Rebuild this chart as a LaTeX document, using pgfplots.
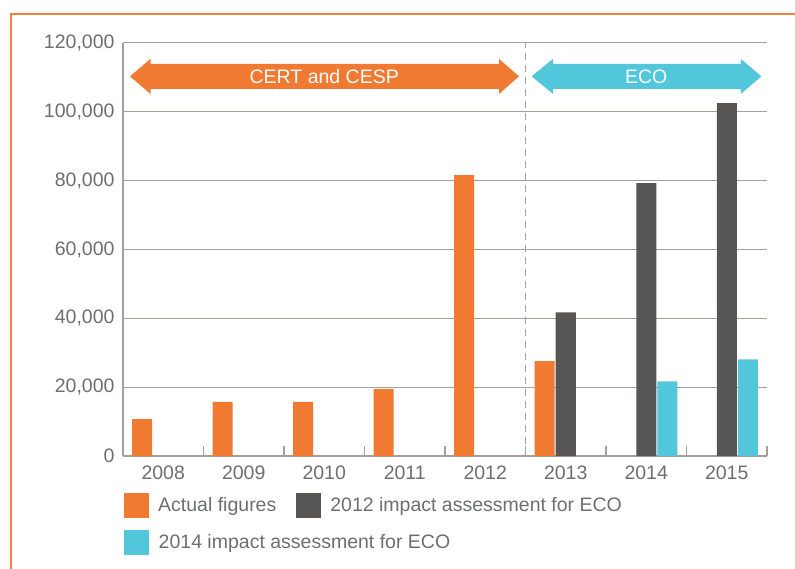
\documentclass[border=0pt]{standalone}
\usepackage{pgfplots}
\pgfplotsset{compat=1.18}
\usepackage{fontspec}
\setmainfont{Liberation Sans}
\definecolor{cOrange}{HTML}{F07A32}
\definecolor{cGray}{HTML}{585654}
\definecolor{cCyan}{HTML}{52C6DB}
\definecolor{cText}{HTML}{6D6E70}
\definecolor{cGrid}{HTML}{A79F9A}
\definecolor{cFrame}{HTML}{F2813A}
\begin{document}
\begin{tikzpicture}[x=1pt,y=1pt]
\useasboundingbox (-123,-112) rectangle (672,456);
\draw[cFrame, line width=2.5pt] (-112,-115) -- (-112,442) -- (675,442);
\begin{axis}[
  at={(0,0)}, anchor=south west,
  scale only axis, width=644pt, height=413pt,
  ybar=1pt, bar width=20pt,
  xmin=-0.5, xmax=7.5, ymin=0, ymax=120000,
  axis x line*=bottom, axis y line*=left,
  axis line style={cGrid, line width=1.2pt},
  xtick={0,...,7},
  xticklabels={2008,2009,2010,2011,2012,2013,2014,2015},
  major x tick style={draw=none},
  minor xtick={0.5,1.5,...,7.5},
  minor x tick style={cGrid, line width=1.2pt},
  minor tick length=10pt,
  xtick align=inside,
  ytick={0,20000,...,120000},
  major y tick style={draw=none},
  ymajorgrids, grid style={cGrid, line width=1pt},
  scaled y ticks=false,
  /pgf/number format/fixed,
  /pgf/number format/1000 sep={,},
  /pgf/number format/assume math mode=true,
  tick label style={font=\fontsize{19.5}{22}\selectfont, text=cText},
  yticklabel style={xshift=-5pt},
  xticklabel style={yshift=-6pt},
  clip=false,
  legend columns=2,
  legend cell align=left,
  legend style={at={(0.0016,-0.089)}, anchor=north west, draw=none, fill=none,
    font=\fontsize{19.5}{22}\selectfont, text=cText,
    inner sep=0pt, row sep=12pt,
    /tikz/every odd column/.append style={column sep=9pt},
    /tikz/every even column/.append style={column sep=20pt},
    nodes={inner xsep=0pt, inner ysep=0pt}},
  legend image code/.code={\fill[#1] (0pt,-12.5pt) rectangle (25pt,12.5pt);},
]
\addplot[fill=cOrange, draw=none] coordinates {(0,10700) (1,15700) (2,15700) (3,19400) (4,81600) (5,27600)};
\addplot[fill=cGray, draw=none] coordinates {(5,41700) (6,79300) (7,102500)};
\addplot[fill=cCyan, draw=none] coordinates {(6,21700) (7,28100)};
\legend{Actual figures, 2012 impact assessment for ECO, \makebox[0pt][l]{2014 impact assessment for ECO}}
\draw[cGrid, line width=1.2pt, dash pattern=on 7pt off 5pt] (axis cs:4.5,0) -- (axis cs:4.5,120000);
\fill[cOrange] (axis cs:-0.413,110300) -- (axis cs:-0.158,115400) -- (axis cs:-0.158,113900) -- (axis cs:4.171,113900) -- (axis cs:4.171,115400) -- (axis cs:4.419,110300) -- (axis cs:4.171,105200) -- (axis cs:4.171,106700) -- (axis cs:-0.158,106700) -- (axis cs:-0.158,105200) -- cycle;
\fill[cCyan] (axis cs:4.577,110300) -- (axis cs:4.842,115400) -- (axis cs:4.842,113900) -- (axis cs:7.174,113900) -- (axis cs:7.174,115400) -- (axis cs:7.431,110300) -- (axis cs:7.174,105200) -- (axis cs:7.174,106700) -- (axis cs:4.842,106700) -- (axis cs:4.842,105200) -- cycle;
\node[text=white, font=\fontsize{19.5}{22}\selectfont] at (axis cs:2.0,110300) {CERT and CESP};
\node[text=white, font=\fontsize{19.5}{22}\selectfont] at (axis cs:6.0,110300) {ECO};
\end{axis}
\end{tikzpicture}
\end{document}
